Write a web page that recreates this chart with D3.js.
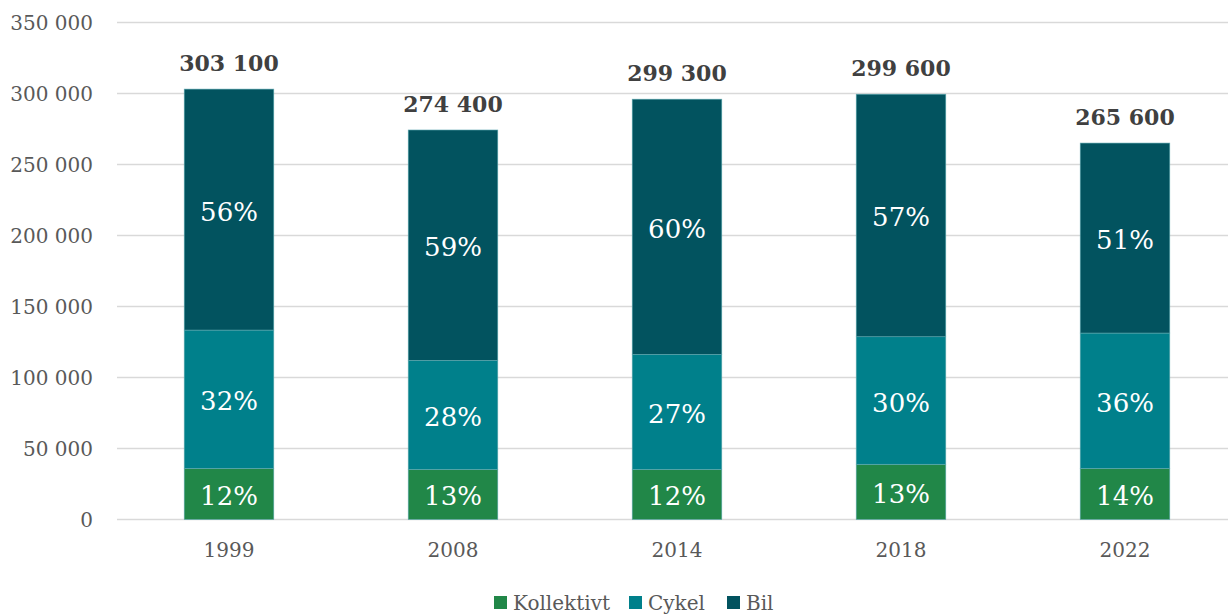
<!DOCTYPE html>
<html>
<head>
<meta charset="utf-8">
<script src="https://cdn.jsdelivr.net/npm/d3@7"></script>
<style>
	html, body { margin: 0; padding: 0; background: #fff; }
	svg text { font-family: "DejaVu Serif", serif; }
</style>
</head>
<body>
<svg id="chart" width="1228" height="614"></svg>
<script>
// Data
const years = ["1999", "2008", "2014", "2018", "2022"];
const series = ["Kollektivt", "Cykel", "Bil"];
const kollektivt = [36000, 35300, 35300, 38900, 36000];
const cykel = [97400, 76800, 81000, 89800, 95300];
const bil = [169700, 162200, 179700, 170800, 133800];
const totals = [303100, 274400, 299300, 299600, 265600];
const totalLabels = ["303 100", "274 400", "299 300", "299 600", "265 600"];
const kollektivtPct = ["12%", "13%", "12%", "13%", "14%"];
const cykelPct = ["32%", "28%", "27%", "30%", "36%"];
const bilPct = ["56%", "59%", "60%", "57%", "51%"];
const yTicks = [0, 50000, 100000, 150000, 200000, 250000, 300000, 350000];
const colors = ["#218748", "#00808b", "#02535f"];

const svg = d3.select("#chart");
const width = 1228;

const x = d3.scaleBand()
	.domain(years)
	.range([117, 1237])
	.paddingInner(0.6)
	.paddingOuter(0.3);

const y = d3.scaleLinear()
	.domain([0, 350000])
	.range([519.5, 22.5]);

const fmt = v => d3.format(",")(v).replace(/,/g, " ");

// gridlines
svg.append("g")
	.selectAll("line")
	.data(yTicks)
	.join("line")
	.attr("x1", 117)
	.attr("x2", width)
	.attr("y1", d => y(d))
	.attr("y2", d => y(d))
	.attr("stroke", "#d9d9d9")
	.attr("stroke-width", 1.4);

// y axis labels
svg.append("g")
	.selectAll("text")
	.data(yTicks)
	.join("text")
	.attr("x", 93)
	.attr("y", d => y(d) + 7)
	.attr("text-anchor", "end")
	.attr("font-size", 20)
	.attr("fill", "#595959")
	.text(d => fmt(d));

// x axis labels
svg.append("g")
	.selectAll("text")
	.data(years)
	.join("text")
	.attr("x", d => x(d) + x.bandwidth() / 2)
	.attr("y", 557)
	.attr("text-anchor", "middle")
	.attr("font-size", 20)
	.attr("fill", "#595959")
	.text(d => d);

// stacked bars
const rows = years.map((yr, i) => ({ year: yr, Kollektivt: kollektivt[i], Cykel: cykel[i], Bil: bil[i] }));
const stacked = d3.stack().keys(series)(rows);
const pctLabels = [kollektivtPct, cykelPct, bilPct];

stacked.forEach((layer, si) => {
	const g = svg.append("g");
	g.selectAll("rect")
		.data(layer)
		.join("rect")
		.attr("x", d => x(d.data.year))
		.attr("width", x.bandwidth())
		.attr("y", d => y(d[1]))
		.attr("height", d => y(d[0]) - y(d[1]))
		.attr("fill", colors[si])
		.attr("stroke", "#5fa9b0")
		.attr("stroke-width", 0.6);

	g.selectAll("text")
		.data(layer)
		.join("text")
		.attr("x", d => x(d.data.year) + x.bandwidth() / 2)
		.attr("y", d => (y(d[0]) + y(d[1])) / 2 + 11)
		.attr("text-anchor", "middle")
		.attr("font-size", 26)
		.attr("fill", "#ffffff")
		.text((d, i) => pctLabels[si][i]);
});

// total labels above each bar
const topLayer = stacked[stacked.length - 1];
svg.append("g")
	.selectAll("text")
	.data(topLayer)
	.join("text")
	.attr("x", d => x(d.data.year) + x.bandwidth() / 2)
	.attr("y", d => y(d[1]) - 18)
	.attr("text-anchor", "middle")
	.attr("font-size", 22)
	.attr("font-weight", "bold")
	.attr("fill", "#404040")
	.text((d, i) => totalLabels[i]);

// legend
const legendX = [494, 629, 727];
const legend = svg.append("g");
series.forEach((s, i) => {
	legend.append("rect")
		.attr("x", legendX[i])
		.attr("y", 596)
		.attr("width", 13)
		.attr("height", 13)
		.attr("fill", colors[i]);
	legend.append("text")
		.attr("x", legendX[i] + 19)
		.attr("y", 610)
		.attr("font-size", 20)
		.attr("fill", "#595959")
		.text(s);
});
</script>
</body>
</html>
